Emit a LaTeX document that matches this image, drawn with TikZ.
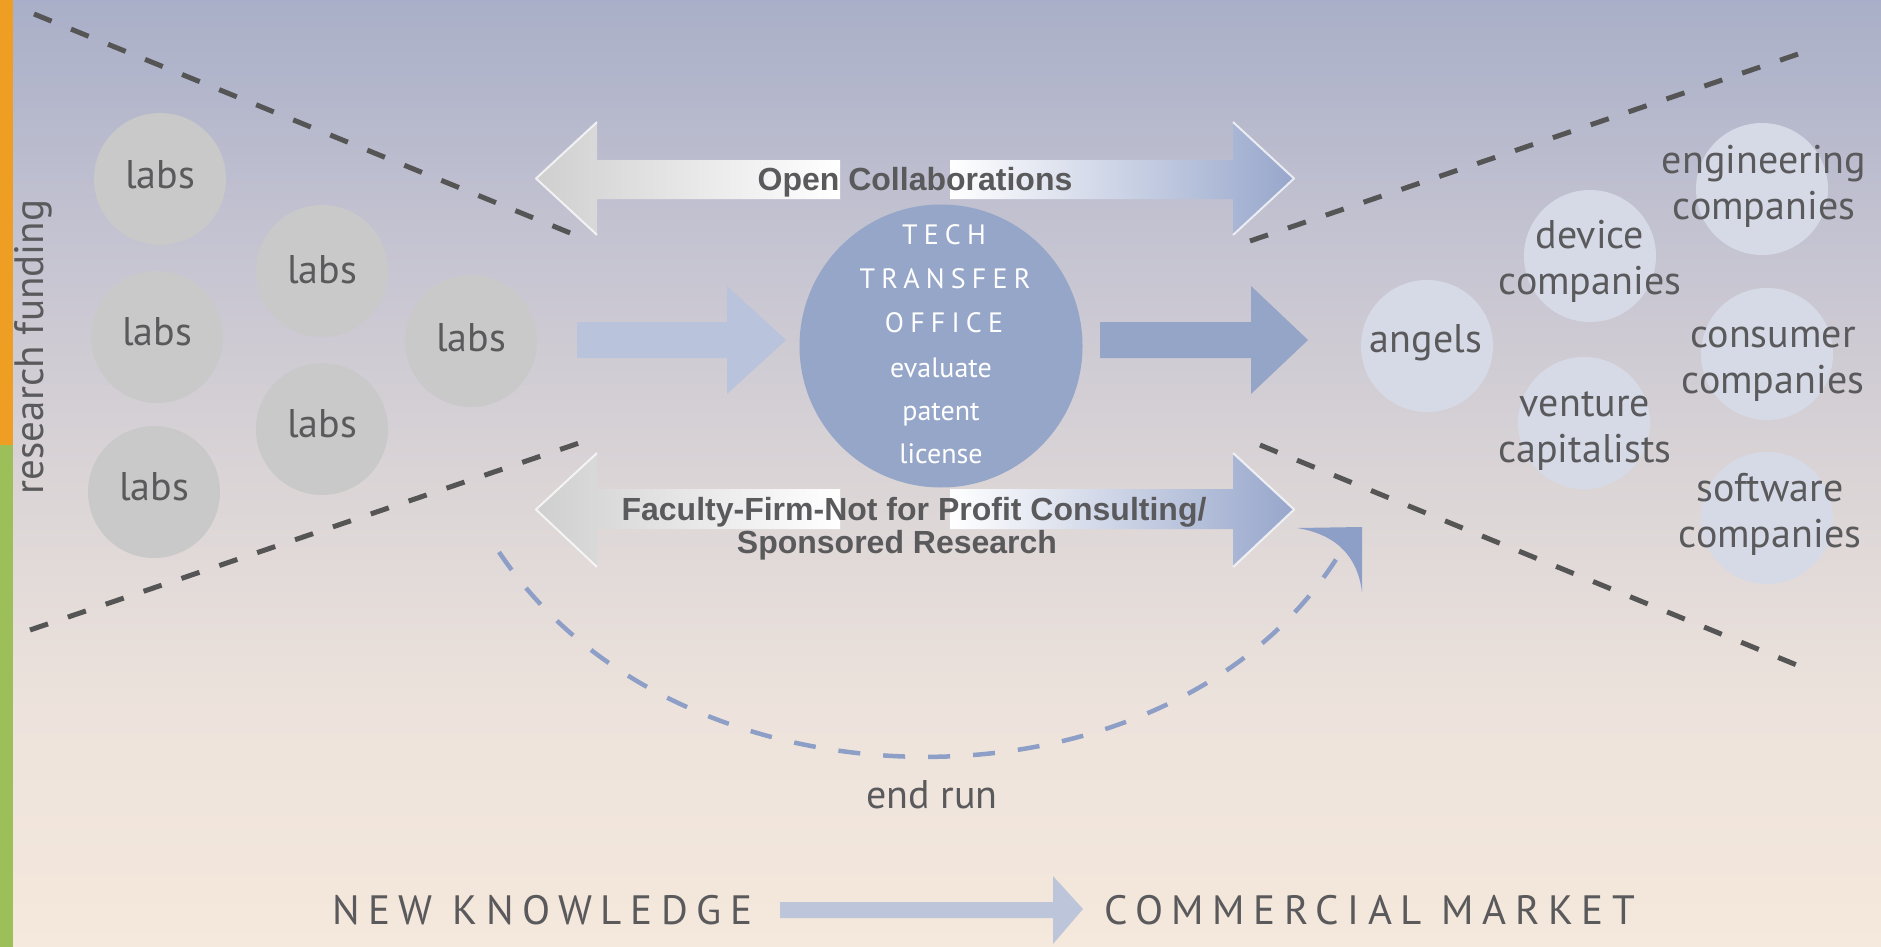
\documentclass[tikz,border=0pt]{standalone}
\usepackage{fontspec}
\setmainfont{PT Sans}
\newfontfamily\arialfont{Liberation Sans}
\newfontfamily\trackfont{PT Sans}[LetterSpace=22]
\newfontfamily\widetrackfont{PT Sans}[LetterSpace=21]
\definecolor{bgA}{HTML}{A9AFC8}
\definecolor{bgB}{HTML}{C4C3D1}
\definecolor{bgC}{HTML}{DAD4D6}
\definecolor{bgD}{HTML}{EDE3DC}
\definecolor{bgE}{HTML}{F5E8DC}
\definecolor{orangebar}{HTML}{EE9E22}
\definecolor{greenbar}{HTML}{9CBF5A}
\definecolor{txtgray}{HTML}{5A5A5C}
\definecolor{dashgray}{HTML}{555555}
\definecolor{labgray}{HTML}{C9C9C9}
\definecolor{actorfill}{HTML}{D6DAE6}
\definecolor{ttoblue}{HTML}{95A6C9}
\definecolor{paleblue}{HTML}{B9C3DB}
\definecolor{midblue}{HTML}{94A5C8}
\definecolor{arrowblue}{HTML}{97A6CB}
\definecolor{arrowgray}{HTML}{CFCFCF}
\definecolor{runblue}{HTML}{8E9FC7}
\definecolor{bottomblue}{HTML}{BCC5DA}
\begin{document}
\begin{tikzpicture}[x=1pt,y=-1pt,
  labcircle/.style={circle, fill=labgray, minimum size=132pt, inner sep=0pt},
  actorcircle/.style={circle, fill=actorfill, minimum size=132pt, inner sep=0pt},
  lbl/.style={text=txtgray, font=\fontsize{40}{46}\selectfont, align=center, inner sep=0pt, anchor=base},
  ttotxt/.style={text=white, font=\fontsize{28}{44}\selectfont, inner sep=0pt, anchor=base},
  ttocaps/.style={text=white, font=\fontsize{28}{44}\trackfont, inner sep=0pt, anchor=base},
  boldlbl/.style={text=txtgray, font=\fontsize{32}{33}\arialfont\bfseries, inner sep=0pt, anchor=base},
  bottomlbl/.style={text=txtgray, font=\fontsize{41}{46}\widetrackfont, inner sep=0pt, anchor=base},
  dashline/.style={draw=dashgray, line width=5pt, dash pattern=on 19pt off 21pt},
  runline/.style={draw=runblue, line width=4.5pt, dash pattern=on 22pt off 23pt},
  bevel/.style={draw=white, line width=2pt, opacity=0.75, line join=round}
]
\useasboundingbox (0,0) rectangle (1881,947);
% background
\shade[top color=bgA, bottom color=bgB] (0,-1) rectangle (1881,238);
\shade[top color=bgB, bottom color=bgC] (0,237) rectangle (1881,475);
\shade[top color=bgC, bottom color=bgD] (0,474) rectangle (1881,711);
\shade[top color=bgD, bottom color=bgE] (0,710) rectangle (1881,948);
% side bar
\fill[orangebar] (0,0) rectangle (12.5,445);
\fill[greenbar] (0,445) rectangle (12.5,947);
\node[text=txtgray, font=\fontsize{41}{46}\selectfont, rotate=90, inner sep=0pt, anchor=base] (funding) at (43,347) {research funding};

% dashed boundary lines
\coordinate (ulA) at (34,14);   \coordinate (ulB) at (580,237);
\coordinate (llA) at (30,630);  \coordinate (llB) at (588,440);
\coordinate (urA) at (1250,241); \coordinate (urB) at (1810,50);
\coordinate (lrA) at (1260,445); \coordinate (lrB) at (1804,668);
\draw[dashline] (ulA) -- (ulB);
\draw[dashline] (llA) -- (llB);
\draw[dashline] (urA) -- (urB);
\draw[dashline] (lrA) -- (lrB);

% labs
\node[labcircle] (lab1) at (160,179) {};
\node[labcircle] (lab2) at (322,271) {};
\node[labcircle] (lab3) at (157,337) {};
\node[labcircle] (lab4) at (471,341) {};
\node[labcircle] (lab5) at (322,429) {};
\node[labcircle] (lab6) at (154,492) {};
\node[lbl] (lab1t) at (160,188) {labs};
\node[lbl] (lab2t) at (322,283) {labs};
\node[lbl] (lab3t) at (157,345) {labs};
\node[lbl] (lab4t) at (471,351) {labs};
\node[lbl] (lab5t) at (322,437) {labs};
\node[lbl] (lab6t) at (154,500) {labs};

% market actors
\node[actorcircle] (angels) at (1427,346) {};
\node[actorcircle] (device) at (1590,256) {};
\node[actorcircle] (engineering) at (1762,189) {};
\node[actorcircle] (consumer) at (1767,354) {};
\node[actorcircle] (venture) at (1584,423) {};
\node[actorcircle] (software) at (1767,518) {};
\node[lbl] (angelst) at (1426,352) {angels};
\node[lbl] (devicet) at (1590,294) {device\\companies};
\node[lbl] (engineeringt) at (1764,219) {engineering\\companies};
\node[lbl] (consumert) at (1773,393) {consumer\\companies};
\node[lbl] (venturet) at (1585,462) {venture\\capitalists};
\node[lbl] (softwaret) at (1770,547) {software\\companies};

% tech transfer office
\node[circle, fill=ttoblue, minimum size=283pt, inner sep=0pt] (tto) at (941,346) {};
\node[ttocaps] (tto1) at (944,244) {TECH};
\node[ttocaps] (tto2) at (945,288) {TRANSFER};
\node[ttocaps] (tto3) at (944,332) {OFFICE};
\node[ttotxt] (tto4) at (941,377) {evaluate};
\node[ttotxt] (tto5) at (941,420) {patent};
\node[ttotxt] (tto6) at (941,463) {license};

% flow arrows
\fill[paleblue] (577,322) -- (727,322) -- (727,286) -- (786,340) -- (727,394) -- (727,358) -- (577,358) -- cycle;
\fill[midblue] (1100,322) -- (1251,322) -- (1251,286) -- (1308,340) -- (1251,394) -- (1251,358) -- (1100,358) -- cycle;

% open collaborations double arrow
\shade[left color=arrowgray, right color=white] (840,160) -- (597,160) -- (597,122) -- (536,178.5) -- (597,235) -- (597,199) -- (840,199) -- cycle;
\shade[left color=white, right color=arrowblue] (950,160) -- (1233,160) -- (1233,122) -- (1294,178.5) -- (1233,235) -- (1233,199) -- (950,199) -- cycle;
\draw[bevel] (597,122) -- (536,178.5) -- (597,235);
\draw[bevel] (1233,122) -- (1294,178.5) -- (1233,235);
\node[boldlbl] (open) at (915,190) {Open Collaborations};

% consulting double arrow
\shade[left color=arrowgray, right color=white] (840,489) -- (597,489) -- (597,453) -- (536,509.5) -- (597,567) -- (597,529) -- (840,529) -- cycle;
\shade[left color=white, right color=arrowblue] (950,489) -- (1233,489) -- (1233,453) -- (1294,509.5) -- (1233,567) -- (1233,529) -- (950,529) -- cycle;
\draw[bevel] (597,453) -- (536,509.5) -- (597,567);
\draw[bevel] (1233,453) -- (1294,509.5) -- (1233,567);
\node[boldlbl] (consult1) at (914,520) {Faculty-Firm-Not for Profit Consulting/};
\node[boldlbl] (consult2) at (897,553) {Sponsored Research};

% end run
\coordinate (runA) at (499,552);
\coordinate (runB) at (1340,553);
\draw[runline] (runA) .. controls (681,825) and (1173,825) .. (runB);
\fill[runblue] (1297,528) -- (1362,527) -- (1362,592) .. controls (1358,560) and (1340,535) .. cycle;
\node[lbl] (endrun) at (932,808) {end run};

% bottom line
\node[bottomlbl, anchor=base west] (newk) at (332,924) {NEW KNOWLEDGE};
\node[bottomlbl, anchor=base west] (comm) at (1104,924) {COMMERCIAL MARKET};
\fill[bottomblue] (780,902) -- (1053,902) -- (1053,876) -- (1083,909) -- (1053,944) -- (1053,918) -- (780,918) -- cycle;
\end{tikzpicture}
\end{document}
